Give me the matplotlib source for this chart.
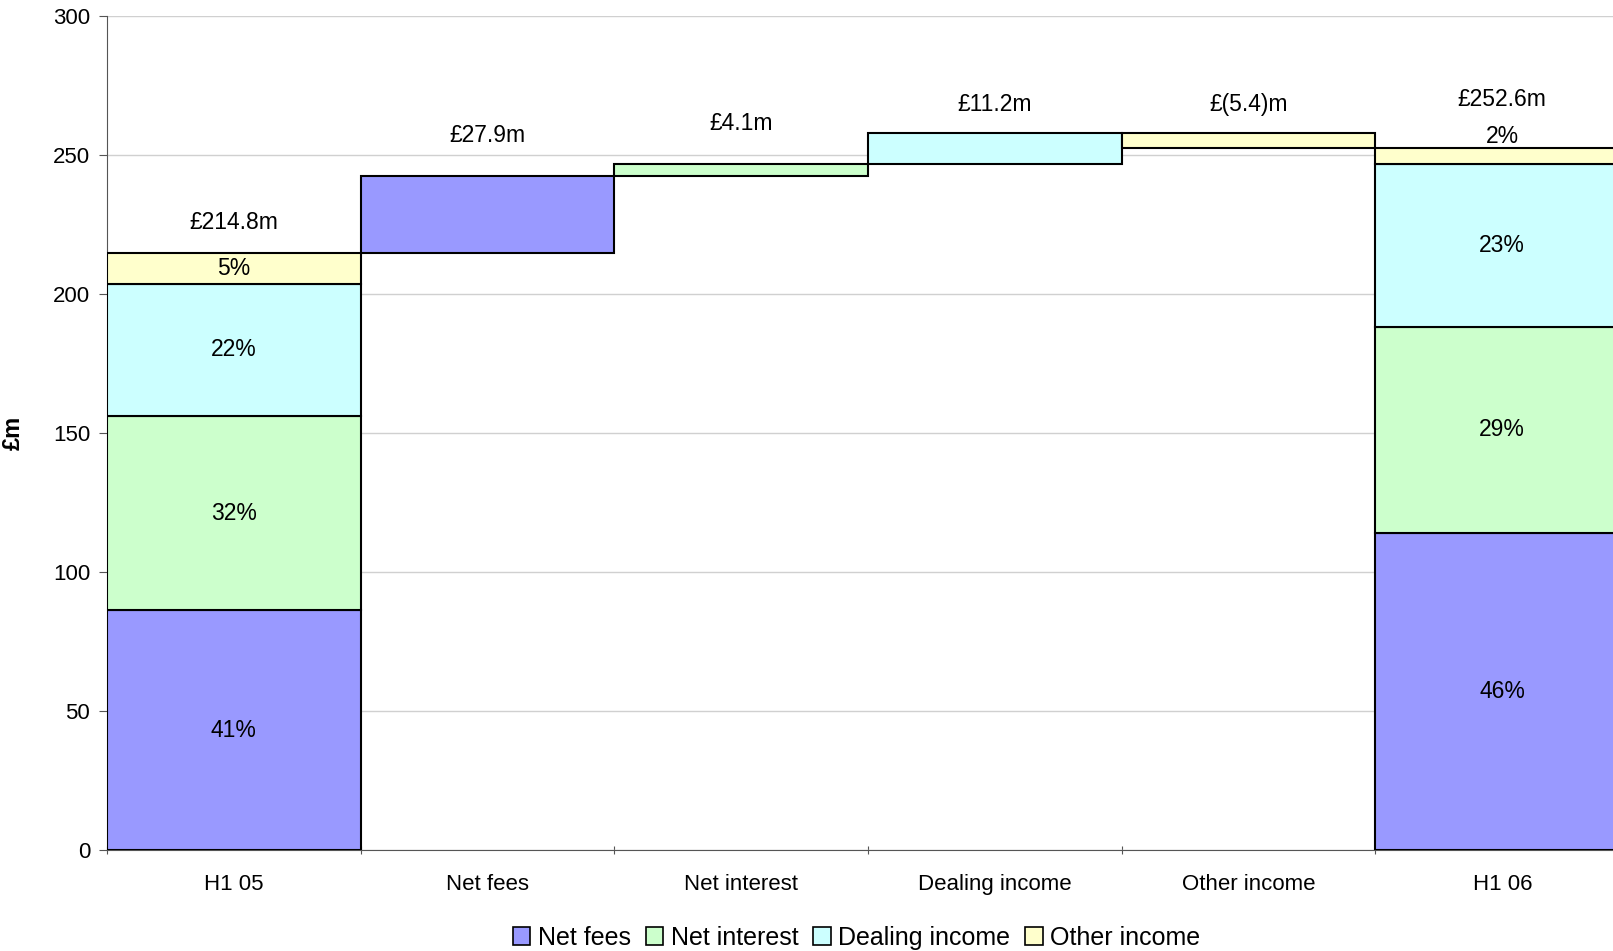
import matplotlib
matplotlib.use("Agg")
import matplotlib.pyplot as plt
from matplotlib.patches import Patch

plt.rcParams['font.family'] = ['Liberation Sans', 'DejaVu Sans']

categories = ["H1 05", "Net fees", "Net interest", "Dealing income", "Other income", "H1 06"]
components = ["Net fees", "Net interest", "Dealing income", "Other income"]
colors = ["#9999FF", "#CCFFCC", "#CCFFFF", "#FFFFCC"]

# stacked totals (£m)
h1_05 = [86.3, 70.0, 47.4, 11.1]
h1_06 = [114.2, 74.1, 58.6, 5.7]
h1_05_pct = ["41%", "32%", "22%", "5%"]
h1_06_pct = ["46%", "29%", "23%", "2%"]
total_labels = ["£214.8m", "£252.6m"]

# bridge movements
changes = [27.9, 4.1, 11.2, -5.4]
change_labels = ["£27.9m", "£4.1m", "£11.2m", "£(5.4)m"]

# label offsets above bar tops, in points (styling only)
change_offs = [21, 21, 12, 12]
total_offs = [14, 27]

FS = 16.5

fig = plt.figure(figsize=(16.13, 9.51), dpi=100)
ax = fig.add_axes([0.0663, 0.1061, 0.9437, 0.8766])

ec = dict(edgecolor="black", linewidth=1.5)

def stack(xpos, vals, pcts, total_lbl, off):
    bottom = 0
    for v, c, p in zip(vals, colors, pcts):
        ax.bar(xpos, v, width=1, bottom=bottom, color=c, align="edge", zorder=3, **ec)
        if v > 8:
            ax.text(xpos + 0.5, bottom + v / 2, p, ha="center", va="center", fontsize=FS, zorder=4)
        else:
            ax.annotate(p, (xpos + 0.5, bottom + v), xytext=(0, 0), textcoords="offset points",
                        ha="center", va="bottom", fontsize=FS, zorder=4)
        bottom += v
    ax.annotate(total_lbl, (xpos + 0.5, bottom), xytext=(0, off), textcoords="offset points",
                ha="center", va="bottom", fontsize=FS, zorder=4)
    return bottom

level = stack(0, h1_05, h1_05_pct, total_labels[0], total_offs[0])
for i, (d, c, lbl) in enumerate(zip(changes, colors, change_labels)):
    lo = level if d >= 0 else level + d
    ax.bar(i + 1, abs(d), width=1, bottom=lo, color=c, align="edge", zorder=3, **ec)
    top = max(level, level + d)
    ax.annotate(lbl, (i + 1.5, top), xytext=(0, change_offs[i]), textcoords="offset points",
                ha="center", va="bottom", fontsize=FS, zorder=4)
    level += d
stack(5, h1_06, h1_06_pct, total_labels[1], total_offs[1])

ax.set_xlim(0, 6)
ax.set_ylim(0, 300)
ax.set_yticks(range(0, 301, 50))
ax.set_xticks(range(0, 7))
ax.set_xticklabels([])
ax.set_xticks([i + 0.5 for i in range(6)], minor=True)
ax.set_xticklabels(categories, minor=True)
ax.tick_params(axis="x", which="minor", length=0, pad=17, labelsize=16)
ax.tick_params(axis="x", which="major", length=6, direction="inout", color="#555555")
ax.tick_params(axis="y", length=6, direction="out", labelsize=16, color="#555555", pad=6)
ax.yaxis.grid(True, color="#d0d0d0", linewidth=1)
ax.set_axisbelow(True)
for s in ["top", "right"]:
    ax.spines[s].set_visible(False)
ax.spines["left"].set_color("#555555")
ax.spines["bottom"].set_color("#555555")
ax.set_ylabel("£m", fontsize=17, fontweight="bold", labelpad=20)

handles = [Patch(facecolor=c, edgecolor="black", linewidth=1.2) for c in colors]
fig.legend(handles, components, loc="center", bbox_to_anchor=(0.531, 0.014), ncol=4,
           frameon=False, fontsize=18, handlelength=0.7, handleheight=0.7,
           handletextpad=0.3, columnspacing=0.6, borderpad=0)

fig.savefig("out.png", dpi=100)
